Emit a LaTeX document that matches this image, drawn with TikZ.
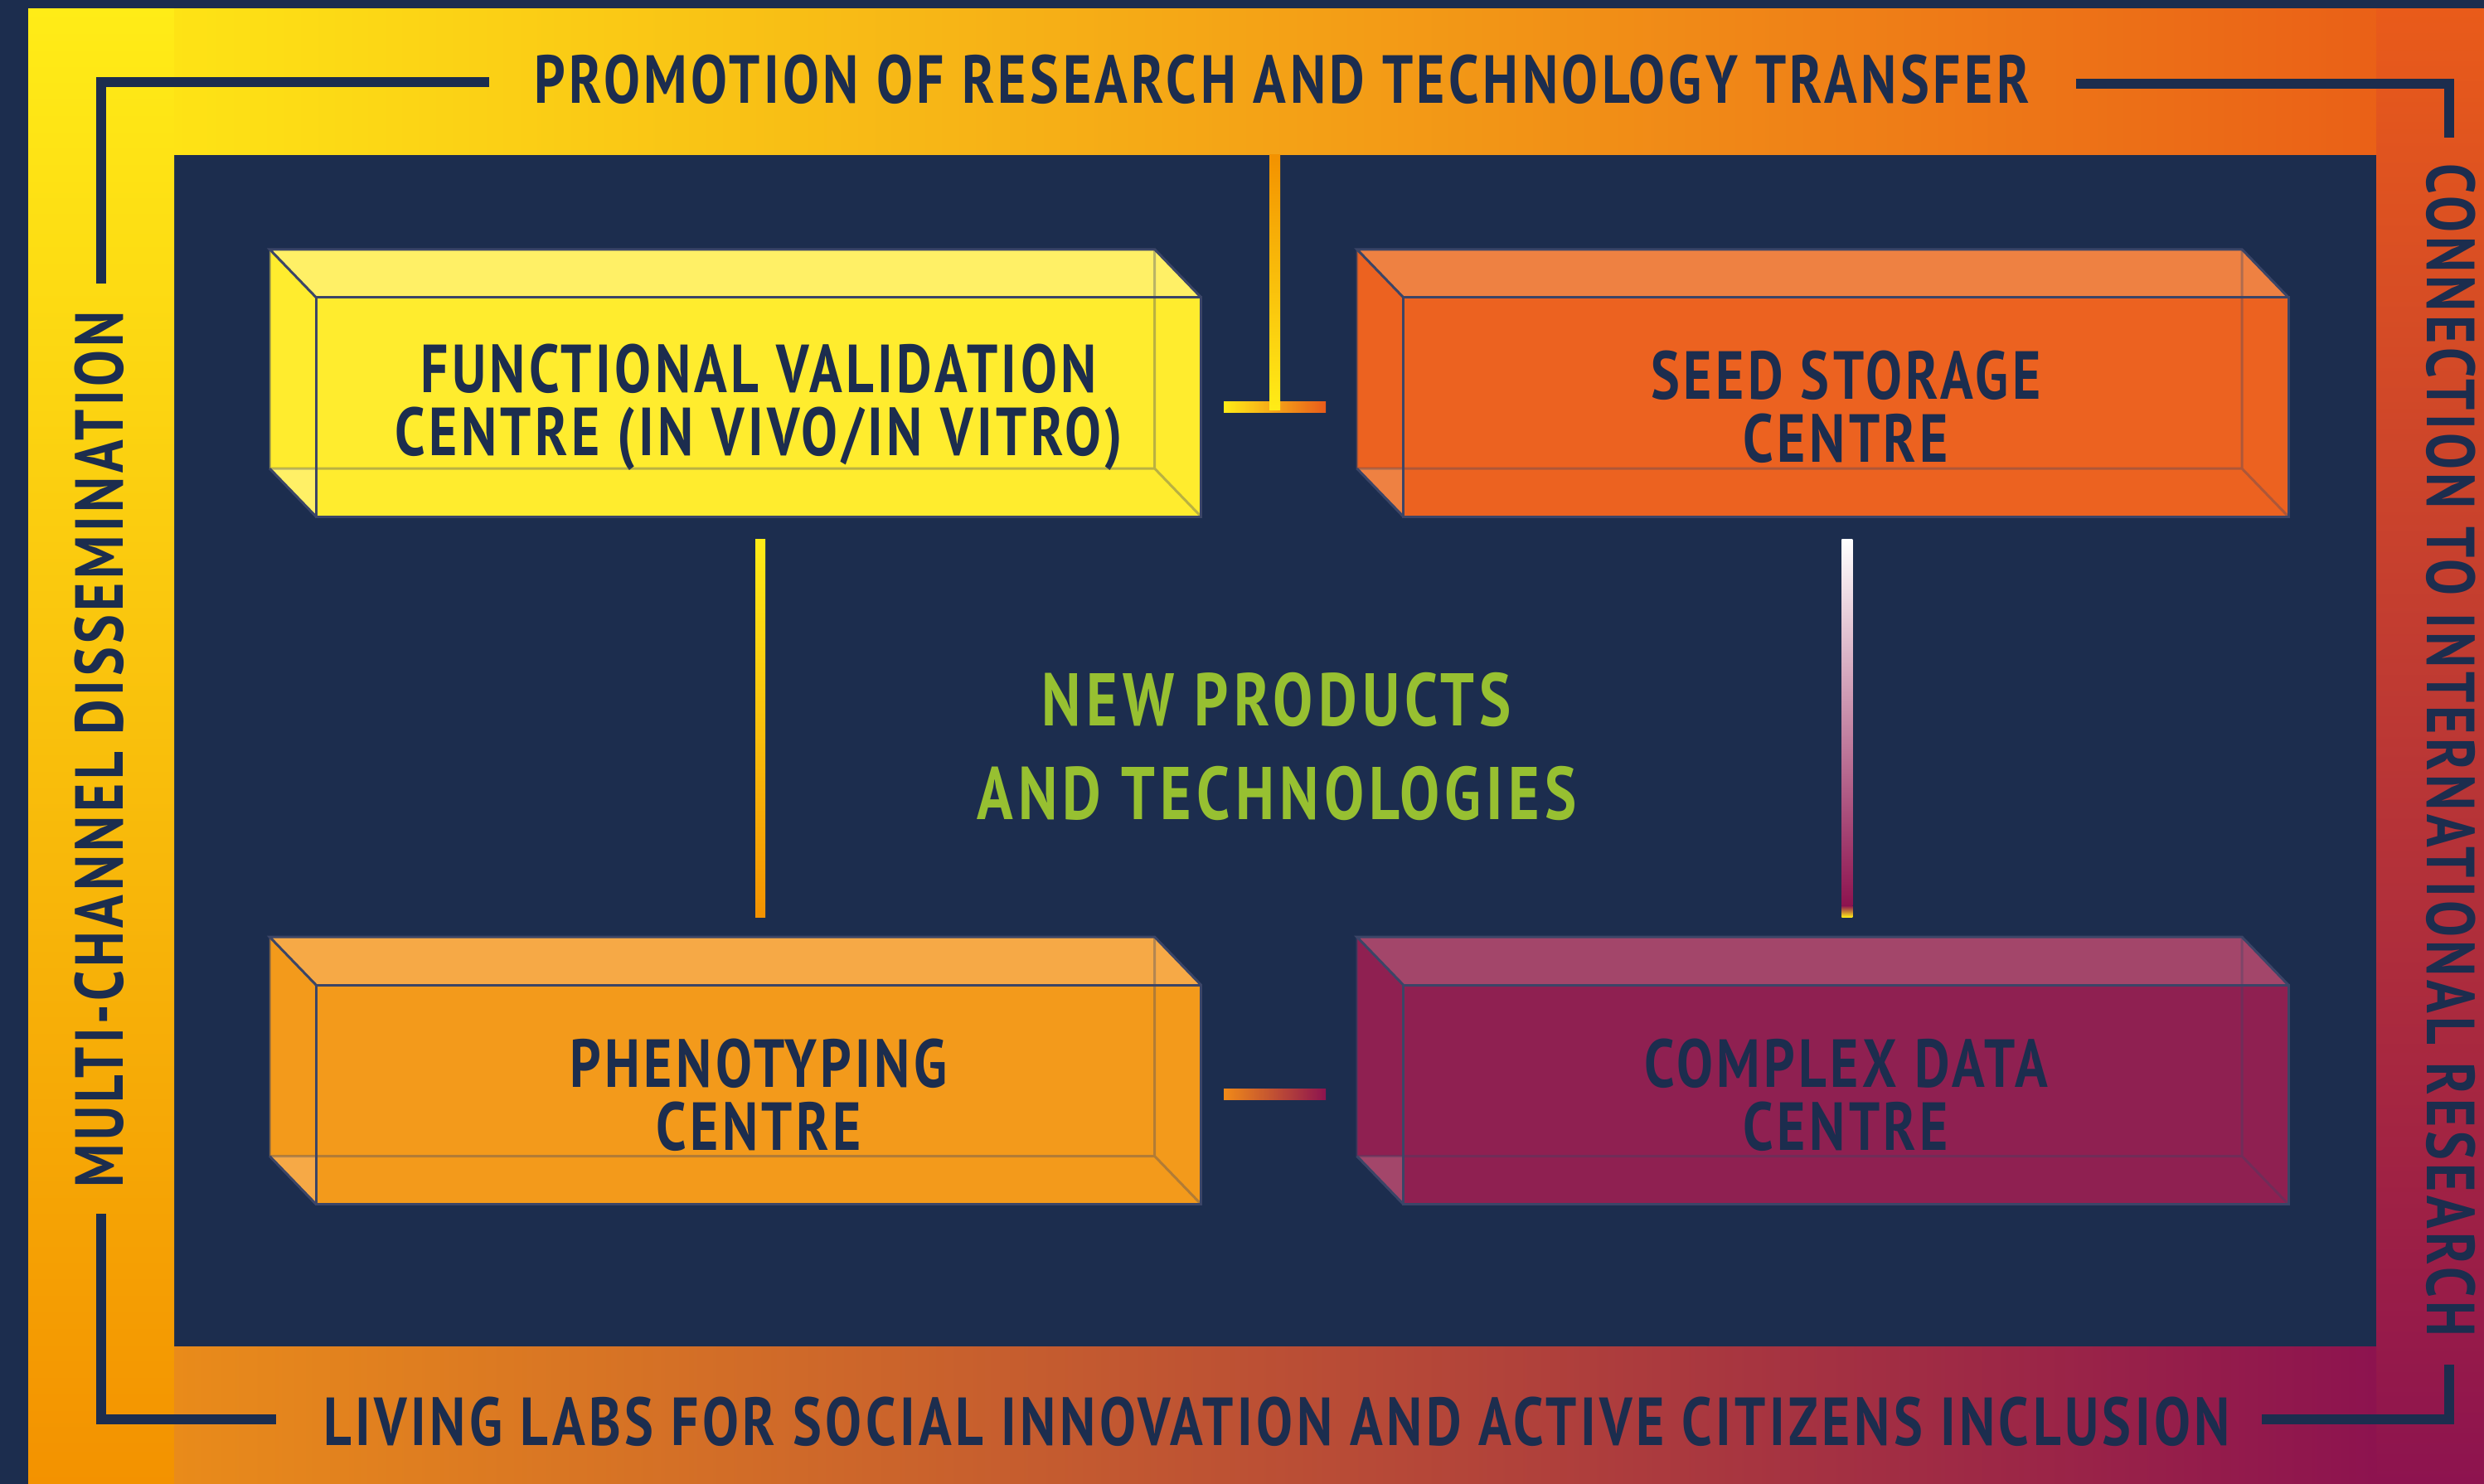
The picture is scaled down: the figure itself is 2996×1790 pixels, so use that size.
\documentclass[tikz,border=0pt]{standalone}
\usepackage{fontspec}
\setmainfont{PT Sans}[FakeStretch=0.80, LetterSpace=5.5]
\usetikzlibrary{calc,positioning}

\definecolor{navy}{HTML}{1C2D4E}
\definecolor{edgeblue}{HTML}{3B4567}
\definecolor{lime}{HTML}{97C031}
\definecolor{yel}{HTML}{FFEC17}
\definecolor{amber}{HTML}{F39200}
\definecolor{flame}{HTML}{E95B1A}
\definecolor{plum}{HTML}{8D134F}
\definecolor{topmid}{HTML}{F4A915}
\definecolor{rightmid}{HTML}{C0383E}
\definecolor{bottomleft}{HTML}{E98B1A}
\definecolor{bottommid}{HTML}{C65A42}
\definecolor{linkorange}{HTML}{F18A18}
\definecolor{fvcfront}{HTML}{FFEC2E}
\definecolor{fvclight}{HTML}{FFF066}
\definecolor{sscfront}{HTML}{EC6220}
\definecolor{ssclight}{HTML}{EE8142}
\definecolor{pcfront}{HTML}{F39A1B}
\definecolor{pclight}{HTML}{F6A946}
\definecolor{cdcfront}{HTML}{8F2051}
\definecolor{cdclight}{HTML}{A3466A}

\tikzstyle{centre} = [rectangle, minimum width=1067pt, minimum height=264pt, inner sep=0pt, align=center, text=navy, font=\fontsize{82}{76}\selectfont\bfseries]
\tikzstyle{band} = [inner sep=0pt, text=navy, font=\fontsize{82}{90}\selectfont\bfseries]
\tikzstyle{bracket} = [draw=navy, line width=12pt]
\tikzstyle{edge} = [draw=edgeblue, line width=3pt]
\tikzstyle{hidden} = [edge, draw opacity=.35]
\pgfdeclarelayer{background}
\pgfsetlayers{background,main}

% 3D box behind a front face node
\newcommand{\cuboid}[3]{%
  \coordinate (#1btl) at ($(#1.north west)+(-56,-58)$);
  \coordinate (#1btr) at ($(#1.north east)+(-56,-58)$);
  \coordinate (#1bbl) at ($(#1.south west)+(-56,-58)$);
  \coordinate (#1bbr) at ($(#1.south east)+(-56,-58)$);
  \begin{pgfonlayer}{background}
    \fill[#2] (#1btl) -- (#1.north west) -- (#1.south west) -- (#1bbl) -- cycle;
    \fill[#2] (#1btr) -- (#1.north east) -- (#1.south east) -- (#1bbr) -- cycle;
    \fill[#3] (#1btl) -- (#1btr) -- (#1.north east) -- (#1.north west) -- cycle;
    \fill[#3] (#1bbl) -- (#1bbr) -- (#1.south east) -- (#1.south west) -- cycle;
  \end{pgfonlayer}
  \path[hidden] (#1btl) -- (#1bbl) -- (#1bbr) -- (#1btr) (#1bbr) -- (#1.south east);
  \path[edge] (#1.south west) -- (#1bbl) (#1.north west) -- (#1btl) -- (#1btr) -- (#1.north east);
  \path[edge] (#1.north west) rectangle (#1.south east);
}

\begin{document}
\begin{tikzpicture}[x=1pt, y=-1pt]

    \useasboundingbox (0,0) rectangle (2996,1790);

    % frame
    \begin{pgfonlayer}{background}
        \fill[navy] (0,0) rectangle (2996,1790);
        \shade[top color=yel, middle color=yel!40!amber, bottom color=amber] (34,11) rectangle (210,1790);
        \shade[left color=yel!90!amber, middle color=topmid, right color=flame!90!amber] (210,11) rectangle (2866,187);
        \shade[top color=flame, middle color=rightmid, bottom color=plum] (2866,11) rectangle (2996,1790);
        \shade[left color=bottomleft, middle color=bottommid, right color=plum] (210,1624) rectangle (2866,1790);
    \end{pgfonlayer}

    % corner brackets
    \draw[bracket] (122,342) -- (122,99) -- (590,99);
    \draw[bracket] (2504,101) -- (2954,101) -- (2954,166);
    \draw[bracket] (122,1464) -- (122,1712) -- (333,1712);
    \draw[bracket] (2728,1712) -- (2954,1712) -- (2954,1646);

    % frame texts
    \node[band, anchor=base] (rtt) at (1546,125) {PROMOTION OF RESEARCH AND TECHNOLOGY TRANSFER};
    \node[band, anchor=base] (llab) at (1540,1743) {LIVING LABS FOR SOCIAL INNOVATION AND ACTIVE CITIZENS INCLUSION};
    \node[band, anchor=base, rotate=90] (mcd) at (148,904) {MULTI-CHANNEL DISSEMINATION};
    \node[band, anchor=base, rotate=-90] (cir) at (2927,905) {CONNECTION TO INTERNATIONAL RESEARCH};

    % centres
    \node[centre, fill=fvcfront] (fvc) at (915,491) {FUNCTIONAL VALIDATION\\CENTRE (IN VIVO/IN VITRO)};
    \node[centre, fill=sscfront, right=244pt of fvc] (ssc) {SEED STORAGE\\CENTRE};
    \node[centre, fill=pcfront, below=565pt of fvc] (pc) {PHENOTYPING\\CENTRE};
    \node[centre, fill=cdcfront, right=244pt of pc] (cdc) {COMPLEX DATA\\CENTRE};
    \cuboid{fvc}{fvcfront}{fvclight}
    \cuboid{ssc}{sscfront}{ssclight}
    \cuboid{pc}{pcfront}{pclight}
    \cuboid{cdc}{cdcfront}{cdclight}

    % middle text
    \node[text=lime, align=center, inner sep=0pt,
            font=\fontsize{90}{113}\selectfont\bfseries\addfontfeature{LetterSpace=7}] (npt) at (1540,900) {NEW PRODUCTS\\AND TECHNOLOGIES};

    % links
    \coordinate (tee) at (1537.5,491);
    \coordinate (bar) at (tee |- pc.east);
    \shade[left color=yel, right color=flame] ($(tee)+(-61.5,-6.5)$) rectangle ($(tee)+(61.5,6.5)$);
    \shade[top color=amber, bottom color=yel] ($(tee)+(-6.5,3)$) rectangle ($(tee |- 0,187)+(6.5,0)$);
    \shade[left color=linkorange, right color=plum] ($(bar)+(-61.5,-6.5)$) rectangle ($(bar)+(61.5,6.5)$);
    \shade[top color=yel, bottom color=amber] ($(fvc.south)+(-4,27)$) rectangle ($(pc.north)+(8,-82)$);
    \shade[top color=white, bottom color=plum] ($(ssc.south)+(-5,27)$) rectangle ($(cdc.north)+(8,-96)$);
    \shade[top color=plum, bottom color=yel] ($(cdc.north)+(-5,-96)$) rectangle ($(cdc.north)+(8,-82)$);

\end{tikzpicture}
\end{document}
